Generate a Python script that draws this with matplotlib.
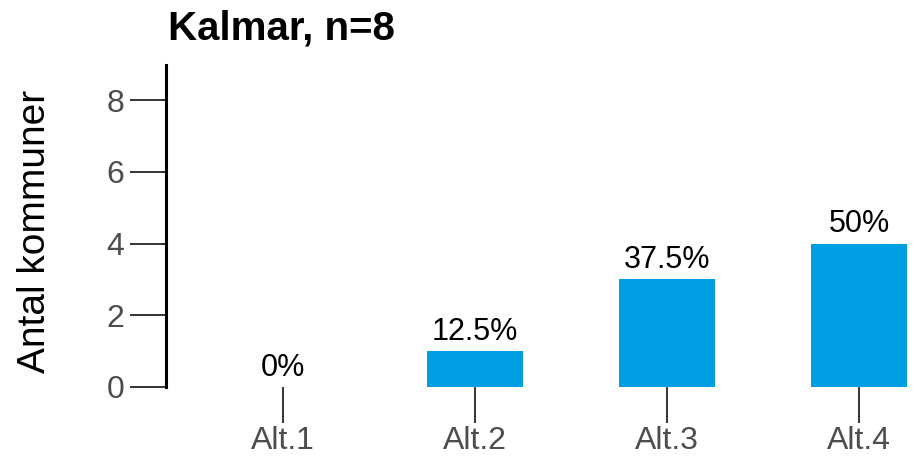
import matplotlib.pyplot as plt

categories = ["Alt.1", "Alt.2", "Alt.3", "Alt.4"]
counts = [0, 1, 3, 4]
labels = ["0%", "12.5%", "37.5%", "50%"]
yticks = [0, 2, 4, 6, 8]

plt.rcParams["font.family"] = ["Liberation Sans", "DejaVu Sans"]

fig = plt.figure(figsize=(9.17, 4.59), dpi=100)
ax = fig.add_axes([166 / 917, 72 / 459, 751 / 917, 322 / 459])

x = list(range(len(categories)))
ax.bar(x, counts, width=0.5, color="#009FE3")
for xi, c, lab in zip(x, counts, labels):
    ax.annotate(lab, (xi, c), xytext=(0, 3), textcoords="offset points",
                ha="center", va="bottom", fontsize=22, color="black")

ax.set_xlim(-0.61, 3.30)
ax.set_ylim(0, 8.98)
ax.set_xticks(x)
ax.set_xticklabels(categories)
ax.set_yticks(yticks)

for s in ["top", "right", "bottom"]:
    ax.spines[s].set_visible(False)
ax.spines["left"].set_linewidth(2.2)
ax.spines["left"].set_color("black")

ax.tick_params(axis="both", length=26, width=1.4, color="#333333",
               labelsize=23, labelcolor="#4d4d4d", pad=4)
ax.tick_params(axis="x", pad=2)

fig.text(35 / 917, 1 - 231 / 459, "Antal kommuner", fontsize=28, rotation=90,
         ha="center", va="center")
fig.text(168 / 917, 1 - 28 / 459, "Kalmar, n=8", fontsize=29, fontweight="bold",
         ha="left", va="center")

fig.savefig("out.png", dpi=100)
